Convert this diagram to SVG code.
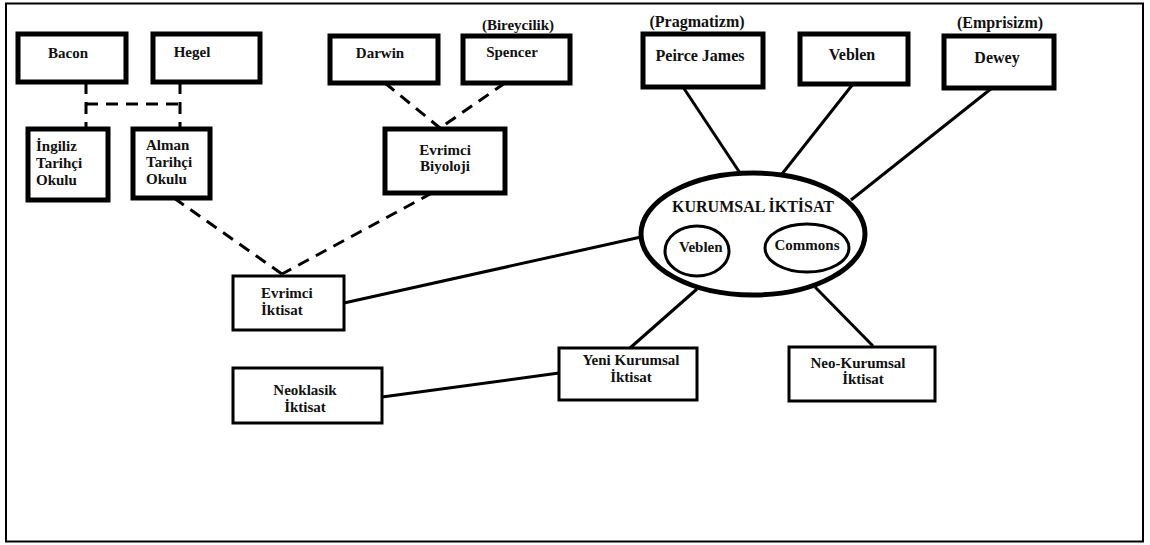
<svg xmlns="http://www.w3.org/2000/svg" width="1150" height="545" viewBox="0 0 1150 545">
<style>
text{font-family:'Liberation Serif','Tinos','DejaVu Serif',serif;font-weight:700;fill:#111;font-size:15px}
.c{text-anchor:middle}
.f{font-size:16px}
.thick{fill:#fff;stroke:#000;stroke-width:5}
.thin{fill:#fff;stroke:#000;stroke-width:3}
.ln{stroke:#000;stroke-width:3;fill:none}
.dash{stroke:#000;stroke-width:3;fill:none;stroke-dasharray:12 8}
</style>
<rect x="0" y="0" width="1150" height="545" fill="#fff"/>
<rect x="6" y="3.5" width="1137" height="538" fill="none" stroke="#000" stroke-width="2"/>
<g id="connectors">
<path class="dash" d="M86 82 V136"/>
<path class="dash" d="M180 82 V133"/>
<path class="dash" d="M86 104 H181"/>
<path class="dash" d="M385 83 L440 128"/>
<path class="dash" d="M505 83 L440 128"/>
<path class="dash" d="M432 193 L282 274"/>
<path class="dash" d="M174 198 L282 274"/>
<path class="ln" d="M344 303 L641 237"/>
<path class="ln" d="M382 397 L559 373"/>
<path class="ln" d="M697 289 L630 348"/>
<path class="ln" d="M815 287 L873 346"/>
<path class="ln" d="M683 87 L740 173"/>
<path class="ln" d="M853 84 L782 174"/>
<path class="ln" d="M992 88 L851 200"/>
</g>
<g id="bacon"><rect class="thick" x="18" y="34" width="108" height="48"/><text class="c" x="68" y="58">Bacon</text></g>
<g id="hegel"><rect class="thick" x="153" y="34" width="107" height="48"/><text class="c" x="192" y="57">Hegel</text></g>
<g id="ingiliz"><rect class="thick" x="28" y="129" width="80" height="71"/><text x="36" y="151">İngiliz</text><text x="36" y="168">Tarihçi</text><text x="36" y="185">Okulu</text></g>
<g id="alman"><rect class="thick" x="133" y="129" width="77" height="69"/><text x="146" y="150">Alman</text><text x="146" y="167">Tarihçi</text><text x="146" y="184">Okulu</text></g>
<g id="darwin"><rect class="thick" x="330" y="36" width="108" height="47"/><text class="c" x="380" y="58">Darwin</text></g>
<g id="spencer"><text class="c" x="518" y="30">(Bireycilik)</text><rect class="thick" x="463" y="36" width="107" height="47"/><text class="c" x="512" y="57">Spencer</text></g>
<g id="evrimci-biyoloji"><rect class="thick" x="385" y="129" width="120" height="64"/><text class="c" x="445" y="155">Evrimci</text><text class="c" x="445" y="171">Biyoloji</text></g>
<g id="evrimci-iktisat"><rect class="thin" x="233" y="276" width="111" height="54"/><text x="261" y="298">Evrimci</text><text x="261" y="315">İktisat</text></g>
<g id="neoklasik"><rect class="thin" x="233" y="368" width="149" height="55"/><text class="c" x="305" y="395">Neoklasik</text><text class="c" x="305" y="412">İktisat</text></g>
<g id="yeni-kurumsal"><rect class="thin" x="559" y="348" width="138" height="52"/><text class="c" x="631" y="365">Yeni Kurumsal</text><text class="c" x="631" y="382">İktisat</text></g>
<g id="neo-kurumsal"><rect class="thin" x="789" y="347" width="146" height="54"/><text class="c" x="858" y="368">Neo-Kurumsal</text><text class="c" x="863" y="384">İktisat</text></g>
<g id="peirce"><text class="c f" x="697" y="27">(Pragmatizm)</text><rect class="thick" x="643" y="34" width="120" height="53"/><text class="c f" x="700" y="61">Peirce James</text></g>
<g id="veblen-box"><rect class="thick" x="800" y="34" width="108" height="50"/><text class="c f" x="852" y="60">Veblen</text></g>
<g id="dewey"><text class="c f" x="1000" y="28">(Emprisizm)</text><rect class="thick" x="944" y="36" width="110" height="52"/><text class="c f" x="997" y="63">Dewey</text></g>
<g id="kurumsal-iktisat">
<ellipse cx="753" cy="234" rx="112" ry="61" fill="#fff" stroke="#000" stroke-width="5"/>
<text class="c f" x="753" y="212">KURUMSAL İKTİSAT</text>
<ellipse cx="697" cy="251" rx="32" ry="25" fill="none" stroke="#000" stroke-width="3"/>
<text x="679" y="252">Veblen</text>
<ellipse cx="807" cy="248" rx="42" ry="24" fill="none" stroke="#000" stroke-width="3"/>
<text class="c" x="807" y="250">Commons</text>
</g>
</svg>
